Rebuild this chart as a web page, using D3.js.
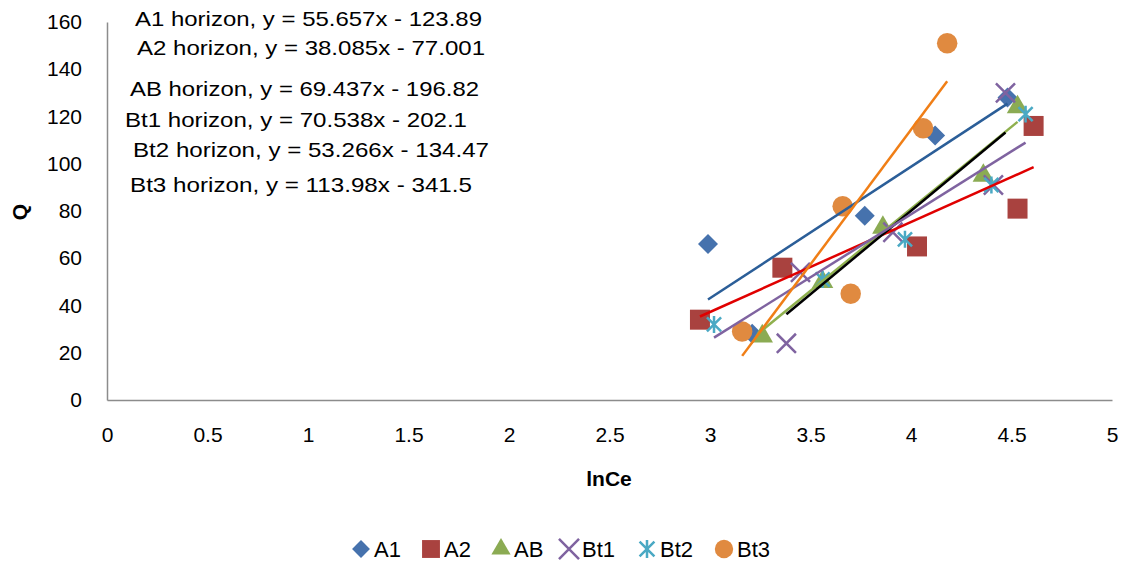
<!DOCTYPE html>
<html lang="en">
<head>
<meta charset="UTF-8" />
<title>Q vs lnCe</title>
<style>
  body { margin: 0; background: #fff; }
  #container { width: 1124px; height: 563px; }
  text { font-family: "Liberation Sans", Arial, sans-serif; fill: #000; }
</style>
</head>
<body>
<div id="container"></div>
<script src="https://cdnjs.cloudflare.com/ajax/libs/d3/7.8.5/d3.min.js"></script>
<script>
// series names and values
const seriesNames = ["A1", "A2", "AB", "Bt1", "Bt2", "Bt3"];
const xA1 = [2.99, 3.21, 3.77, 4.12, 4.48];
const yA1 = [66, 28, 78, 112, 128];
const xA2 = [2.95, 3.36, 4.03, 4.53, 4.61];
const yA2 = [34, 56, 65, 81, 116];
const xAB = [3.26, 3.56, 3.86, 4.36, 4.53];
const yAB = [27, 50, 73, 95, 124];
const xBt1 = [3.38, 3.45, 3.91, 4.41, 4.47];
const yBt1 = [24, 54, 71, 91, 130];
const xBt2 = [3.02, 3.56, 3.97, 4.40, 4.57];
const yBt2 = [32, 51, 68, 91, 121];
const xBt3 = [3.16, 3.66, 3.70, 4.06, 4.18];
const yBt3 = [29, 82, 45, 115, 151];
// trendline equations shown on the chart
const slopes = [55.657, 38.085, 69.437, 70.538, 53.266, 113.98];
const intercepts = [-123.89, -77.001, -196.82, -202.1, -134.47, -341.5];
const equations = [
  "A1 horizon, y = 55.657x - 123.89",
  "A2 horizon, y = 38.085x - 77.001",
  "AB horizon, y = 69.437x - 196.82",
  "Bt1 horizon, y = 70.538x - 202.1",
  "Bt2 horizon, y = 53.266x - 134.47",
  "Bt3 horizon, y = 113.98x - 341.5"
];
const xTicks = [0, 0.5, 1, 1.5, 2, 2.5, 3, 3.5, 4, 4.5, 5];
const yTicks = [0, 20, 40, 60, 80, 100, 120, 140, 160];

const xs = [xA1, xA2, xAB, xBt1, xBt2, xBt3];
const ys = [yA1, yA2, yAB, yBt1, yBt2, yBt3];

const markerColor = ["#4672ad", "#a9423f", "#8bab53", "#7f63a0", "#4aa9c4", "#e08a40"];
const lineColor = ["#2b5e98", "#e00000", "#8fb04e", "#000000", "#7f63a0", "#f07e16"];

const W = 1124, H = 563;
const svg = d3.select("#container").append("svg").attr("width", W).attr("height", H);

const x = d3.scaleLinear().domain([0, 5]).range([107, 1112]);
const y = d3.scaleLinear().domain([0, 160]).range([400, 22]);

// axes
svg.append("g").attr("transform", "translate(0,400)")
  .call(d3.axisBottom(x).tickValues(xTicks).tickSize(0).tickPadding(27).tickFormat(d3.format("")))
  .call(g => g.select(".domain").attr("stroke", "#8c8c8c").attr("stroke-width", 1.5))
  .call(g => g.selectAll("text").style("font-size", "21px").attr("fill", "#000"));

svg.append("g").attr("transform", "translate(107,0)")
  .call(d3.axisLeft(y).tickValues(yTicks).tickSize(0).tickPadding(25))
  .call(g => g.select(".domain").attr("stroke", "#8c8c8c").attr("stroke-width", 1.5))
  .call(g => g.selectAll("text").style("font-size", "21px").attr("fill", "#000"));

// axis titles
svg.append("text").attr("x", 609).attr("y", 486).attr("text-anchor", "middle")
  .style("font-size", "21px").style("font-weight", "bold").text("lnCe");
svg.append("text").attr("transform", "translate(27,212) rotate(-90)").attr("text-anchor", "middle")
  .style("font-size", "21px").style("font-weight", "bold").text("Q");

// marker shapes
const star = {
  draw(ctx, size) {
    const r = Math.sqrt(size) / 2;
    ctx.moveTo(-r, -r); ctx.lineTo(r, r);
    ctx.moveTo(r, -r); ctx.lineTo(-r, r);
    ctx.moveTo(0, -r * 1.2); ctx.lineTo(0, r * 1.2);
  }
};
const shapes = [
  { type: d3.symbolSquare, size: 200, fill: true, rot: 45 },
  { type: d3.symbolSquare, size: 400, fill: true, rot: 0 },
  { type: d3.symbolTriangle, size: 200, fill: true, rot: 0 },
  { type: d3.symbolTimes, size: 240, fill: false, rot: 0 },
  { type: star, size: 200, fill: false, rot: 0 },
  { type: d3.symbolCircle, size: 330, fill: true, rot: 0 }
];

function drawMarker(g, i, scale) {
  const s = shapes[i];
  const p = g.append("path")
    .attr("d", d3.symbol().type(s.type).size(s.size * (scale || 1))())
    .attr("transform", `rotate(${s.rot})`);
  if (s.fill) p.attr("fill", markerColor[i]);
  else p.attr("fill", "none").attr("stroke", markerColor[i]).attr("stroke-width", 2.5);
}

// points
seriesNames.forEach((name, i) => {
  const pts = xs[i].map((v, j) => [v, ys[i][j]]);
  svg.append("g").selectAll("g").data(pts).enter().append("g")
    .attr("transform", d => `translate(${x(d[0])},${y(d[1])})`)
    .each(function () { drawMarker(d3.select(this), i); });
});

// trendlines over the range of each series
const line = d3.line().x(d => x(d[0])).y(d => y(d[1]));
seriesNames.forEach((name, i) => {
  const [x0, x1] = d3.extent(xs[i]);
  const ends = [x0, x1].map(v => [v, slopes[i] * v + intercepts[i]]);
  svg.append("path").attr("d", line(ends))
    .attr("fill", "none").attr("stroke", lineColor[i]).attr("stroke-width", 2.5);
});

// equation labels
const eqX = [135, 137, 130, 125, 133, 130];
const eqY = [26, 55, 96, 127, 157, 192];
const eqW = [347, 348, 349, 342, 356, 342];
equations.forEach((t, i) => {
  svg.append("text").attr("x", eqX[i]).attr("y", eqY[i])
    .attr("textLength", eqW[i])
    .attr("lengthAdjust", "spacingAndGlyphs")
    .style("font-size", "21px").text(t);
});

// legend
const legX = [361, 431, 501, 569, 647, 724];
const legend = svg.append("g");
seriesNames.forEach((name, i) => {
  const g = legend.append("g").attr("transform", `translate(${legX[i]},549)`);
  drawMarker(g, i, i === 3 || i === 4 ? 1.1 : 0.8);
  g.append("text").attr("x", 13).attr("y", 8).style("font-size", "22px").text(name);
});
</script>
</body>
</html>
